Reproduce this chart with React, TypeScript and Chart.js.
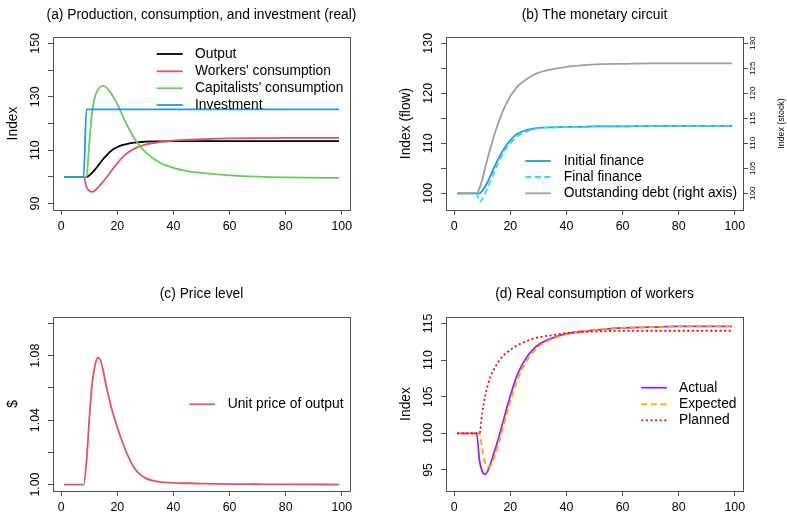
import React, { useEffect, useRef } from "react";
import { Chart, registerables } from "chart.js";

Chart.register(...registerables);

const FONT = '"Liberation Sans", Arial, Helvetica, sans-serif';
const TEXT_SIZE = 13.8;
const TICK_SIZE = 12.4;
const RIGHT_TICK_SIZE = 8;
const RIGHT_TITLE_SIZE = 8.8;
const AXIS_COLOR = "#505050";
const LINE_WIDTH = 1.8;
const TICK_LEN = 5;
const Y_LABEL_DIST = 17.5;
const Y2_LABEL_DIST = 9.3;
const X_LABEL_PAD = 4;
const Y_TITLE_PAD = 4.5;

const PERIODS = [1, 8, 9, 10, 11, 12, 13, 14, 15, 16, 17, 18, 19, 20, 22, 24, 26, 28, 30, 35, 40, 45, 50, 60, 70, 80, 99];

// (a) Production, consumption, and investment (real)
const OUTPUT = [100, 100, 100, 100.5, 101.5, 102.7, 104.0, 105.4, 106.7, 107.9, 109.0, 109.9, 110.6, 111.2, 112.0, 112.5, 112.8, 113.0, 113.2, 113.3, 113.4, 113.4, 113.4, 113.4, 113.4, 113.4, 113.4];
const WORKERS_CONSUMPTION = [100, 100, 96.3, 94.8, 94.4, 94.9, 95.9, 97.1, 98.3, 99.6, 101.0, 102.4, 103.8, 105.1, 107.5, 109.2, 110.5, 111.4, 112.1, 113.0, 113.6, 113.9, 114.1, 114.4, 114.5, 114.6, 114.6];
const CAPITALISTS_CONSUMPTION = [100, 100, 100, 112.5, 124.0, 129.8, 132.5, 133.8, 134.1, 133.6, 132.4, 131.0, 129.2, 127.3, 122.6, 118.3, 114.6, 111.6, 109.3, 105.4, 103.4, 102.2, 101.5, 100.6, 100.1, 99.8, 99.6];
const INVESTMENT = [100, 100, 125.3, 125.3, 125.3, 125.3, 125.3, 125.3, 125.3, 125.3, 125.3, 125.3, 125.3, 125.3, 125.3, 125.3, 125.3, 125.3, 125.3, 125.3, 125.3, 125.3, 125.3, 125.3, 125.3, 125.3, 125.3];

// (b) The monetary circuit
const INITIAL_FINANCE = [100, 100, 100, 100.5, 101.3, 102.4, 103.6, 104.9, 106.1, 107.2, 108.2, 109.1, 109.9, 110.6, 111.7, 112.3, 112.7, 112.9, 113.1, 113.2, 113.3, 113.3, 113.4, 113.4, 113.5, 113.5, 113.5];
const FINAL_FINANCE = [100, 100, 98.3, 98.8, 99.9, 101.2, 102.6, 103.9, 105.2, 106.4, 107.5, 108.5, 109.3, 110.0, 111.2, 111.9, 112.4, 112.8, 113.0, 113.2, 113.3, 113.3, 113.4, 113.4, 113.5, 113.5, 113.5];
const OUTSTANDING_DEBT = [100, 100, 101.0, 102.7, 105.0, 107.2, 109.2, 111.1, 112.9, 114.5, 116.0, 117.3, 118.4, 119.4, 121.0, 122.1, 122.9, 123.6, 124.1, 124.8, 125.3, 125.6, 125.8, 125.9, 126.0, 126.0, 126.0];

// (c) Price level
const UNIT_PRICE = [1.0, 1.0, 1.014, 1.040, 1.062, 1.0735, 1.0787, 1.0770, 1.0705, 1.0615, 1.0540, 1.0470, 1.0410, 1.0355, 1.0255, 1.0170, 1.0105, 1.0065, 1.0040, 1.0016, 1.0011, 1.0008, 1.0006, 1.0003, 1.0002, 1.0001, 1.0];

// (d) Real consumption of workers (actual = workers' consumption)
const EXPECTED = [100, 100, 100, 97.8, 96.0, 95.4, 95.6, 96.4, 97.5, 98.8, 100.2, 101.6, 103.0, 104.3, 106.7, 108.6, 110.0, 111.0, 111.8, 112.9, 113.5, 113.9, 114.1, 114.4, 114.5, 114.6, 114.6];
const PLANNED = [100, 100, 100, 102.8, 105.0, 106.6, 107.8, 108.6, 109.3, 109.9, 110.4, 110.8, 111.1, 111.4, 111.9, 112.3, 112.6, 112.9, 113.1, 113.4, 113.7, 113.8, 113.9, 114.0, 114.0, 114.0, 114.0];

// axes
const X_RANGE = [-2.92, 102.92];
const X_TICKS = [0, 20, 40, 60, 80, 100];
const A_Y_TICKS = [90, 100, 110, 120, 130, 140, 150];
const A_Y_LABELS = [90, 110, 130, 150];
const B_Y_TICKS = [100, 105, 110, 115, 120, 125, 130];
const B_Y_LABELS = [100, 110, 120, 130];
const B_Y2_TICKS = [100, 105, 110, 115, 120, 125, 130];
const C_Y_TICKS = [1.0, 1.02, 1.04, 1.06, 1.08, 1.1];
const C_Y_LABELS = [1.0, 1.04, 1.08];
const D_Y_TICKS = [95, 100, 105, 110, 115];
const D_Y_LABELS = [95, 100, 105, 110, 115];

type Series = { label: string; values: number[]; color: string; dash: number[]; axis?: string };
type Area = { left: number; right: number; top: number; bottom: number };
type PanelSpec = {
  key: string;
  left: number; top: number; width: number; height: number;
  area: Area;
  title: string; titleY: number;
  yTitle: string;
  yRange: [number, number];
  yTicks: number[]; yLabels: number[]; yDecimals: number;
  y2?: { ticks: number[]; title: string; titleX: number };
  series: Series[];
  legend: { x0: number; x1: number; tx: number; ys: number[] };
};

const PANELS: PanelSpec[] = [
  {
    key: "a", left: 0, top: 0, width: 393, height: 256,
    area: { left: 53, right: 350, top: 37, bottom: 210 },
    title: "(a) Production, consumption, and investment (real)", titleY: 15,
    yTitle: "Index", yRange: [87.6, 152.4], yTicks: A_Y_TICKS, yLabels: A_Y_LABELS, yDecimals: 0,
    series: [
      { label: "Output", values: OUTPUT, color: "#000000", dash: [] },
      { label: "Workers' consumption", values: WORKERS_CONSUMPTION, color: "#DF536B", dash: [] },
      { label: "Capitalists' consumption", values: CAPITALISTS_CONSUMPTION, color: "#61D04F", dash: [] },
      { label: "Investment", values: INVESTMENT, color: "#2297E6", dash: [] },
    ],
    legend: { x0: 156.7, x1: 182.7, tx: 195, ys: [54, 71.3, 88.3, 105] },
  },
  {
    key: "b", left: 393, top: 0, width: 394, height: 256,
    area: { left: 53, right: 350, top: 37, bottom: 210 },
    title: "(b) The monetary circuit", titleY: 15,
    yTitle: "Index (flow)", yRange: [96.66, 131.26], yTicks: B_Y_TICKS, yLabels: B_Y_LABELS, yDecimals: 0,
    y2: { ticks: B_Y2_TICKS, title: "Index (stock)", titleX: 389 },
    series: [
      { label: "Initial finance", values: INITIAL_FINANCE, color: "#2297E6", dash: [] },
      { label: "Final finance", values: FINAL_FINANCE, color: "#28E2E5", dash: [6, 3.5] },
      { label: "Outstanding debt (right axis)", values: OUTSTANDING_DEBT, color: "#9E9E9E", dash: [], axis: "y2" },
    ],
    legend: { x0: 132.3, x1: 157.7, tx: 170.7, ys: [161, 177, 193.3] },
  },
  {
    key: "c", left: 0, top: 256, width: 393, height: 256,
    area: { left: 53, right: 350, top: 61, bottom: 235 },
    title: "(c) Price level", titleY: 38.3,
    yTitle: "$", yRange: [0.996, 1.104], yTicks: C_Y_TICKS, yLabels: C_Y_LABELS, yDecimals: 2,
    series: [
      { label: "Unit price of output", values: UNIT_PRICE, color: "#DF536B", dash: [] },
    ],
    legend: { x0: 189.3, x1: 215, tx: 227.7, ys: [148.3] },
  },
  {
    key: "d", left: 393, top: 256, width: 394, height: 256,
    area: { left: 53, right: 350, top: 61, bottom: 235 },
    title: "(d) Real consumption of workers", titleY: 38.3,
    yTitle: "Index", yRange: [92.12, 115.88], yTicks: D_Y_TICKS, yLabels: D_Y_LABELS, yDecimals: 0,
    series: [
      { label: "Actual", values: WORKERS_CONSUMPTION, color: "#A020F0", dash: [] },
      { label: "Expected", values: EXPECTED, color: "#FFA500", dash: [6, 3.5] },
      { label: "Planned", values: PLANNED, color: "#FF0000", dash: [2, 2.6] },
    ],
    legend: { x0: 248.3, x1: 274, tx: 286, ys: [131.7, 148.3, 164.3] },
  },
];

function textWidth(text: string, size: number): number {
  const c = document.createElement("canvas").getContext("2d");
  if (!c) return text.length * size * 0.556;
  c.font = `${size}px ${FONT}`;
  return c.measureText(text).width;
}

function decorPlugin(spec: PanelSpec) {
  return {
    id: "decor" + spec.key,
    afterDatasetsDraw(chart: any) {
      const ctx: CanvasRenderingContext2D = chart.ctx;
      const a = chart.chartArea;
      ctx.save();
      // plot box
      ctx.strokeStyle = AXIS_COLOR;
      ctx.lineWidth = 1;
      ctx.setLineDash([]);
      ctx.strokeRect(Math.round(a.left) + 0.5, Math.round(a.top) + 0.5, Math.round(a.right - a.left), Math.round(a.bottom - a.top));
      // title
      ctx.fillStyle = "#000";
      ctx.font = `${TEXT_SIZE}px ${FONT}`;
      ctx.textAlign = "center";
      ctx.textBaseline = "middle";
      ctx.fillText(spec.title, (a.left + a.right) / 2, spec.titleY);
      // legend
      const lg = spec.legend;
      spec.series.forEach((s, i) => {
        const y = lg.ys[i];
        ctx.strokeStyle = s.color;
        ctx.lineWidth = LINE_WIDTH;
        ctx.setLineDash(s.dash);
        ctx.beginPath();
        ctx.moveTo(lg.x0, y);
        ctx.lineTo(lg.x1, y);
        ctx.stroke();
        ctx.setLineDash([]);
        ctx.fillStyle = "#000";
        ctx.textAlign = "left";
        ctx.fillText(s.label, lg.tx, y);
      });
      // right axis title (reads bottom to top, as in R)
      if (spec.y2) {
        ctx.save();
        ctx.translate(spec.y2.titleX, (a.top + a.bottom) / 2);
        ctx.rotate(-Math.PI / 2);
        ctx.font = `${RIGHT_TITLE_SIZE}px ${FONT}`;
        ctx.textAlign = "center";
        ctx.textBaseline = "middle";
        ctx.fillText(spec.y2.title, 0, 0);
        ctx.restore();
      }
      ctx.restore();
    },
  };
}

function buildChart(canvas: HTMLCanvasElement, spec: PanelSpec) {
  const a = spec.area;
  const dec = spec.yDecimals;
  const yStrings = spec.yLabels.map((v) => v.toFixed(dec));
  const yWidest = Math.max(...yStrings.map((s) => textWidth(s, TICK_SIZE)));
  const yPad = Y_LABEL_DIST - TICK_LEN - yWidest / 2;
  const grid = { drawOnChartArea: false, drawTicks: true, tickLength: TICK_LEN, color: AXIS_COLOR, lineWidth: 1 };

  const scales: any = {
    x: {
      type: "linear",
      min: X_RANGE[0],
      max: X_RANGE[1],
      afterBuildTicks: (s: any) => { s.ticks = X_TICKS.map((v) => ({ value: v })); },
      afterFit: (s: any) => { s.height = spec.height - a.bottom; },
      ticks: {
        autoSkip: false, maxRotation: 0, minRotation: 0, padding: X_LABEL_PAD, color: "#000",
        font: { family: FONT, size: TICK_SIZE },
        callback: (v: number) => String(v),
      },
      grid,
      border: { display: false },
    },
    y: {
      type: "linear",
      position: "left",
      min: spec.yRange[0],
      max: spec.yRange[1],
      afterBuildTicks: (s: any) => { s.ticks = spec.yTicks.map((v) => ({ value: v })); },
      afterFit: (s: any) => { s.width = a.left; },
      ticks: {
        autoSkip: false, minRotation: 90, maxRotation: 90, crossAlign: "center", padding: yPad, color: "#000",
        font: { family: FONT, size: TICK_SIZE },
        callback: (v: number) => (spec.yLabels.includes(v) ? v.toFixed(dec) : ""),
      },
      title: {
        display: true, text: spec.yTitle, color: "#000",
        font: { family: FONT, size: TEXT_SIZE },
        padding: { top: Y_TITLE_PAD, bottom: 0 },
      },
      grid,
      border: { display: false },
    },
  };

  if (spec.y2) {
    const y2 = spec.y2;
    const w2 = Math.max(...y2.ticks.map((v) => textWidth(String(v), RIGHT_TICK_SIZE)));
    scales.y2 = {
      type: "linear",
      position: "right",
      min: spec.yRange[0],
      max: spec.yRange[1],
      afterBuildTicks: (s: any) => { s.ticks = y2.ticks.map((v) => ({ value: v })); },
      afterFit: (s: any) => { s.width = spec.width - a.right; },
      ticks: {
        autoSkip: false, minRotation: 90, maxRotation: 90, crossAlign: "center",
        padding: Y2_LABEL_DIST - TICK_LEN - w2 / 2, color: "#000",
        font: { family: FONT, size: RIGHT_TICK_SIZE },
        callback: (v: number) => String(v),
      },
      grid,
      border: { display: false },
    };
  }

  const datasets = spec.series.map((s, i) => ({
    label: s.label,
    data: PERIODS.map((t, k) => ({ x: t, y: s.values[k] })),
    borderColor: s.color,
    backgroundColor: s.color,
    borderWidth: LINE_WIDTH,
    borderDash: s.dash,
    pointRadius: 0,
    pointHoverRadius: 0,
    fill: false,
    cubicInterpolationMode: "monotone" as const,
    yAxisID: s.axis || "y",
    order: -i,
  }));

  return new Chart(canvas, {
    type: "line",
    data: { datasets },
    options: {
      responsive: false,
      animation: false,
      events: [],
      devicePixelRatio: 1,
      layout: {
        padding: { left: 0, top: a.top, right: spec.y2 ? 0 : spec.width - a.right, bottom: 0 },
      },
      plugins: {
        legend: { display: false },
        title: { display: false },
        tooltip: { enabled: false },
      },
      scales,
    },
    plugins: [decorPlugin(spec)],
  } as any);
}

function Panel({ spec }: { spec: PanelSpec }) {
  const ref = useRef<HTMLCanvasElement>(null);
  useEffect(() => {
    if (!ref.current) return;
    const chart = buildChart(ref.current, spec);
    return () => chart.destroy();
  }, [spec]);
  return (
    <canvas
      ref={ref}
      width={spec.width}
      height={spec.height}
      style={{ position: "absolute", left: spec.left, top: spec.top, width: spec.width, height: spec.height }}
    />
  );
}

export default function App() {
  return (
    <div style={{ position: "absolute", left: 0, top: 0, width: 787, height: 512, background: "#ffffff", overflow: "hidden" }}>
      {PANELS.map((p) => (
        <Panel key={p.key} spec={p} />
      ))}
    </div>
  );
}
